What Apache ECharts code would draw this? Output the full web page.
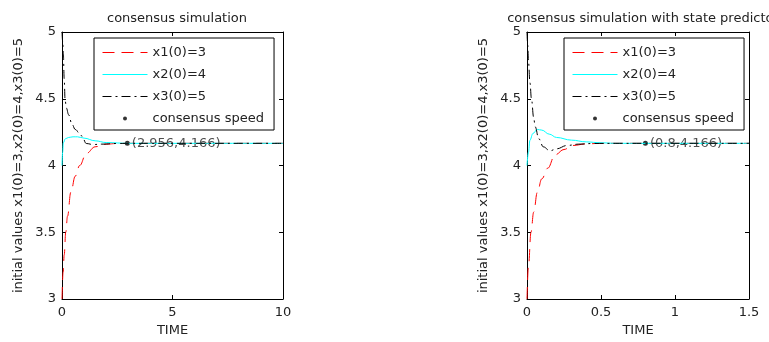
<!DOCTYPE html>
<html>
<head>
<meta charset="utf-8">
<script src="https://cdn.jsdelivr.net/npm/echarts/dist/echarts.min.js"></script>
<style>
  html, body { margin: 0; padding: 0; background: #fff; }
  #chart { width: 769px; height: 342px; }
</style>
</head>
<body>
<div id="chart"></div>
<script>
// ---- data ----
var seriesNames = ['x1(0)=3', 'x2(0)=4', 'x3(0)=5', 'consensus speed'];
var xTicksLeft = [0, 10, 5];     // min, max, interval
var xTicksRight = [0, 1.5, 0.5];
var yTicks = [3, 5, 0.5];

// left: consensus simulation
var leftT1 = [0, 0.05, 0.1, 0.17, 0.25, 0.4, 0.6, 0.8, 1.1, 1.5, 2, 2.5, 3, 4, 6, 8, 10];
var leftX1 = [3, 3.2, 3.33, 3.5, 3.62, 3.8, 3.92, 4.0, 4.09, 4.14, 4.16, 4.165, 4.166, 4.166, 4.166, 4.166, 4.166];
var leftT2 = [0, 0.03, 0.06, 0.15, 0.3, 0.5, 0.7, 1, 1.5, 2, 3, 4, 6, 8, 10];
var leftX2 = [4.0, 4.1, 4.17, 4.2, 4.21, 4.215, 4.215, 4.205, 4.185, 4.172, 4.166, 4.166, 4.166, 4.166, 4.166];
var leftT3 = [0, 0.03, 0.06, 0.1, 0.14, 0.2, 0.3, 0.45, 0.6, 0.8, 0.9, 1.1, 1.4, 1.8, 2.5, 3, 4, 6, 8, 10];
var leftX3 = [5, 4.93, 4.84, 4.65, 4.49, 4.43, 4.38, 4.31, 4.27, 4.24, 4.22, 4.165, 4.157, 4.16, 4.165, 4.166, 4.166, 4.166, 4.166, 4.166];
var leftSpeed = [2.956, 4.166];

// right: consensus simulation with state predictor
var rightT1 = [0, 0.01, 0.027, 0.045, 0.07, 0.1, 0.14, 0.19, 0.25, 0.31, 0.4, 0.5, 0.8, 1.2, 1.5];
var rightX1 = [3, 3.25, 3.5, 3.65, 3.8, 3.9, 3.98, 4.08, 4.12, 4.15, 4.162, 4.166, 4.166, 4.166, 4.166];
var rightT2 = [0, 0.01, 0.02, 0.04, 0.07, 0.1, 0.15, 0.2, 0.3, 0.4, 0.5, 0.6, 0.8, 1.2, 1.5];
var rightX2 = [4.0, 4.1, 4.19, 4.24, 4.27, 4.265, 4.235, 4.21, 4.19, 4.177, 4.17, 4.166, 4.166, 4.166, 4.166];
var rightT3 = [0, 0.005, 0.01, 0.02, 0.03, 0.045, 0.055, 0.08, 0.11, 0.155, 0.2, 0.27, 0.35, 0.45, 0.6, 0.8, 1.2, 1.5];
var rightX3 = [5, 4.9, 4.78, 4.62, 4.5, 4.36, 4.29, 4.2, 4.14, 4.11, 4.125, 4.15, 4.16, 4.165, 4.166, 4.166, 4.166, 4.166];
var rightSpeed = [0.8, 4.166];

var titles = ['consensus simulation', 'consensus simulation with state predictor'];
var yName = 'initial values x1(0)=3,x2(0)=4,x3(0)=5';
var xName = 'TIME';

// ---- styling ----
var font = 'DejaVu Sans';
var textColor = '#222';
var txt = { color: textColor, fontFamily: font, fontSize: 13 };

function pairs(ts, vs) {
    return ts.map(function(t, i) { return [t, vs[i]]; });
}

function xAxis(grid, ticks, pos) {
    var main = pos === 'bottom';
    return {
        gridIndex: grid, type: 'value', position: pos,
        min: ticks[0], max: ticks[1], interval: ticks[2],
        name: main ? xName : '', nameLocation: 'middle', nameGap: 24, nameTextStyle: txt,
        axisLine: { show: true, onZero: false, lineStyle: { color: '#000', width: 1 } },
        axisTick: { show: true, inside: true, length: 4, lineStyle: { color: '#000' } },
        axisLabel: { show: main, margin: 7, color: textColor, fontFamily: font, fontSize: 13 },
        splitLine: { show: false }
    };
}

function yAxis(grid, pos) {
    var main = pos === 'left';
    return {
        gridIndex: grid, type: 'value', position: pos,
        min: yTicks[0], max: yTicks[1], interval: yTicks[2],
        name: main ? yName : '', nameLocation: 'middle', nameGap: 37, nameTextStyle: txt,
        axisLine: { show: true, onZero: false, lineStyle: { color: '#000', width: 1 } },
        axisTick: { show: true, inside: true, length: 4, lineStyle: { color: '#000' } },
        axisLabel: { show: main, margin: 6, color: textColor, fontFamily: font, fontSize: 13 },
        splitLine: { show: false }
    };
}

function lineSeries(name, color, dash, axisIdx, data) {
    return {
        name: name, type: 'line', xAxisIndex: axisIdx, yAxisIndex: axisIdx,
        data: data, symbol: 'none', smooth: 0.4, smoothMonotone: 'x',
        color: color,
        lineStyle: { color: color, width: 1, type: dash },
        silent: true, animation: false
    };
}

function speedSeries(axisIdx, pt) {
    return {
        name: seriesNames[3], type: 'scatter', xAxisIndex: axisIdx, yAxisIndex: axisIdx,
        data: [pt], symbol: 'circle', symbolSize: 5, color: '#000',
        itemStyle: { color: '#000' },
        label: {
            show: true, position: 'right', distance: 2,
            color: textColor, fontFamily: font, fontSize: 13,
            formatter: function(p) { return '(' + p.value[0] + ',' + p.value[1] + ')'; }
        },
        animation: false
    };
}

function legend(left) {
    // line entries: hide the little symbol ECharts puts in the middle of the line icon
    var items = seriesNames.map(function(n, i) {
        return i < 3 ? { name: n, itemStyle: { opacity: 0 } } : { name: n };
    });
    return {
        left: left, top: 38, orient: 'vertical',
        data: items,
        itemWidth: 45, itemHeight: 4, itemGap: 9,
        padding: [8, 10, 5, 8],
        borderColor: '#000', borderWidth: 1, backgroundColor: '#fff',
        selectedMode: false,
        lineStyle: { width: 1 },
        textStyle: txt
    };
}

var redDash = [12, 7];
var dashDot = [9, 4, 2, 4];

var myChart = echarts.init(document.getElementById('chart'));

var option = {
    backgroundColor: '#fff',
    animation: false,
    title: [
        { text: titles[0], left: 172, top: 7, textAlign: 'center', textStyle: { color: textColor, fontFamily: font, fontSize: 13, fontWeight: 'normal' } },
        { text: titles[1], left: 638, top: 7, textAlign: 'center', textStyle: { color: textColor, fontFamily: font, fontSize: 13, fontWeight: 'normal' } }
    ],
    grid: [
        { left: 62, top: 32, width: 221, height: 267 },
        { left: 527, top: 32, width: 222, height: 267 }
    ],
    xAxis: [
        xAxis(0, xTicksLeft, 'bottom'),
        xAxis(1, xTicksRight, 'bottom'),
        xAxis(0, xTicksLeft, 'top'),
        xAxis(1, xTicksRight, 'top')
    ],
    yAxis: [
        yAxis(0, 'left'),
        yAxis(1, 'left'),
        yAxis(0, 'right'),
        yAxis(1, 'right')
    ],
    legend: [legend(94), legend(564)],
    series: [
        lineSeries(seriesNames[0], '#ff0000', redDash, 0, pairs(leftT1, leftX1)),
        lineSeries(seriesNames[1], '#00ffff', 'solid', 0, pairs(leftT2, leftX2)),
        lineSeries(seriesNames[2], '#000000', dashDot, 0, pairs(leftT3, leftX3)),
        speedSeries(0, leftSpeed),
        lineSeries(seriesNames[0], '#ff0000', redDash, 1, pairs(rightT1, rightX1)),
        lineSeries(seriesNames[1], '#00ffff', 'solid', 1, pairs(rightT2, rightX2)),
        lineSeries(seriesNames[2], '#000000', dashDot, 1, pairs(rightT3, rightX3)),
        speedSeries(1, rightSpeed)
    ]
};

myChart.setOption(option);
</script>
</body>
</html>
